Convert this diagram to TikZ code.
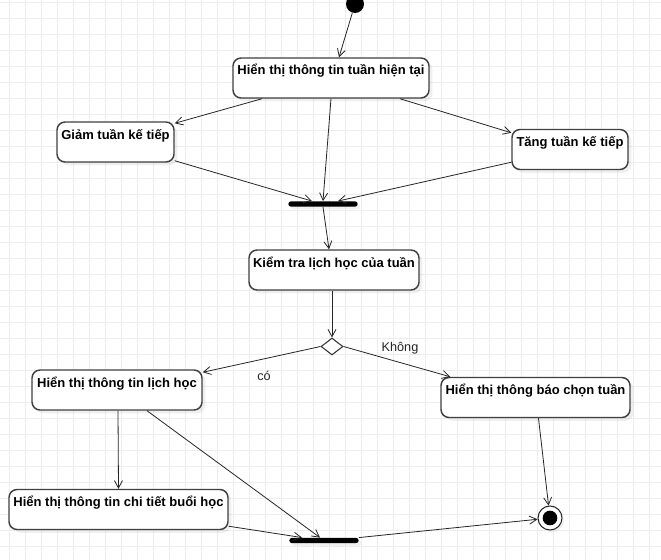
\documentclass[tikz,border=0pt]{standalone}
\usepackage{fontspec}
\setmainfont{Liberation Sans}
\usetikzlibrary{arrows.meta,shapes.geometric,shadows,calc}

\tikzset{
  action/.style={rectangle, draw=black!75, line width=1.1pt, rounded corners=6pt, fill=white,
    inner xsep=3pt, inner ysep=4pt, text height=8.75pt, text depth=13.25pt,
    font=\fontsize{9.75}{11}\selectfont\bfseries,
    drop shadow={shadow xshift=2.5pt, shadow yshift=-2.5pt, opacity=0.12}},
  forkbar/.style={rectangle, fill=black, rounded corners=2pt, inner sep=0pt,
    minimum width=52pt, minimum height=4pt,
    drop shadow={shadow xshift=2pt, shadow yshift=-2pt, opacity=0.1}},
  decision/.style={diamond, draw=black!80, line width=0.8pt, fill=white, inner sep=0pt,
    minimum width=16.5pt, minimum height=12.75pt},
  flow/.style={-{Straight Barb[length=5.5pt,width=6pt]}, line width=0.6pt, black!85},
  guard/.style={font=\fontsize{9.5}{11}\selectfont, text=black!85},
  gridline/.style={black!7, line width=0.6pt}
}

\begin{document}
\begin{tikzpicture}[x=0.75pt,y=-0.75pt]
\useasboundingbox (0,0) rectangle (661,560);
\fill[white] (0,0) rectangle (661,560);
% background grid
\foreach \gx in {9,25,...,660} \draw[gridline] (\gx,0) -- (\gx,560);
\foreach \gy in {2,18,...,559} \draw[gridline] (0,\gy) -- (661,\gy);

% nodes
\node[circle, fill=black, minimum size=13.5pt, inner sep=0pt] (start) at (355,4) {};
\node[action, minimum width=147pt] (thongtin) at (331,78) {Hiển thị thông tin tuần hiện tại};
\node[action, minimum width=87.75pt] (giam) at (115.5,142) {Giảm tuần kế tiếp};
\node[action, minimum width=87pt] (tang) at (570,149.5) {Tăng tuần kế tiếp};
\node[forkbar] (bar1) at (323,204) {};
\node[action, minimum width=127.5pt] (kiemtra) at (334,270) {Kiểm tra lịch học của tuần};
\node[decision] (chon) at (332,346.5) {};
\node[action, minimum width=127.5pt] (lichhoc) at (117,390) {Hiển thị thông tin lịch học};
\node[action, minimum width=141.75pt] (thongbao) at (535.5,397.5) {Hiển thị thông báo chọn tuần};
\node[action, minimum width=164.25pt] (chitiet) at (118.5,509.5) {Hiển thị thông tin chi tiết buổi học};
\node[forkbar] (bar2) at (324,540.5) {};
\node[circle, draw=black!85, line width=0.8pt, fill=white, minimum size=18pt, inner sep=0pt,
  drop shadow={shadow xshift=1.5pt, shadow yshift=-1.5pt, opacity=0.12},
  path picture={\fill[black] (path picture bounding box.center) circle (5.5pt);}] (final) at (550,518) {};

% guards
\node[guard] (co) at (264,376) {có};
\node[guard] (khong) at (400,348) {Không};

% transitions
\draw[flow] (start) -- ($(thongtin.north)+(8,0)$);
\draw[flow] ($(thongtin.south)+(-69,0)$) -- ($(giam.north east)+(0,2)$);
\draw[flow] ($(thongtin.south)+(69,0)$) -- ($(tang.north west)+(0,4)$);
\draw[flow] (thongtin.south) -- (bar1.north);
\draw[flow] ($(giam.south east)+(0,-2)$) -- ($(bar1.north)+(-11,0)$);
\draw[flow] ($(tang.south west)+(0,-8)$) -- ($(bar1.north)+(15,0)$);
\draw[flow] (bar1.south) -- ($(kiemtra.north)+(-5,0)$);
\draw[flow] ($(kiemtra.south)+(-2,0)$) -- (chon.north);
\draw[flow] (chon.west) -- ($(lichhoc.north east)+(0,3)$);
\draw[flow] (chon.east) -- ($(thongbao.north west)+(10,0)$);
\draw[flow] ($(lichhoc.south)+(1,0)$) -- (chitiet.north);
\draw[flow] ($(lichhoc.south)+(30,0)$) -- ($(bar2.north)+(-4,0)$);
\draw[flow] ($(chitiet.south east)+(0,-4)$) -- ($(bar2.north)+(-22,0)$);
\draw[flow] ($(thongbao.south)+(3,0)$) -- (final);
\draw[flow] (bar2.north east) -- (final);
\end{tikzpicture}
\end{document}
